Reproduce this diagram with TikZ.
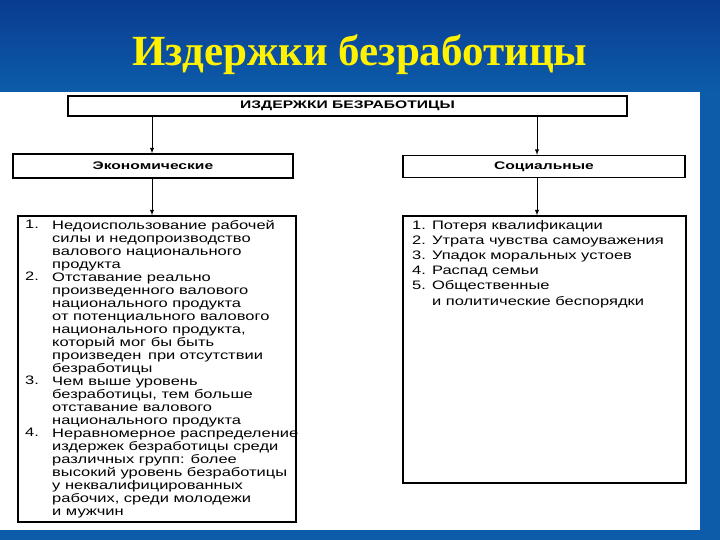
\documentclass[tikz,border=0pt]{standalone}
\usepackage{fontspec}
\setmainfont{Liberation Serif}
\newfontfamily\arl[FakeStretch=1.42]{Liberation Sans}
\newfontfamily\arlt[FakeStretch=1.34]{Liberation Sans}
\definecolor{frm}{RGB}{12,92,170}
\definecolor{tbar}{RGB}{10,60,145}
\begin{document}
\begin{tikzpicture}[x=1pt,y=-1pt,
 bx/.style={draw=black,line width=1.3pt,fill=white},
 hd/.style={font=\arl\bfseries\fontsize{11}{12}\selectfont},
 ar/.style={-latex,line width=0.9pt},
 txt/.style={font=\arlt\fontsize{12.3}{13}\selectfont,align=left,anchor=north west,inner sep=0pt}]
\useasboundingbox (0,0) rectangle (720,540);
\fill[frm] (0,0) rectangle (720,540);
\fill[top color=tbar,bottom color=frm] (0,0) rectangle (720,92);
\fill[white] (0,92) rectangle (700,530);
\node[font=\bfseries\fontsize{43}{48}\selectfont,text=yellow] (title) at (360,55) {Издержки безработицы};
\node[bx,hd,minimum width=559,minimum height=20,inner sep=0pt] (top) at (347.5,106) {ИЗДЕРЖКИ БЕЗРАБОТИЦЫ};
\node[bx,hd,minimum width=280,minimum height=24,inner sep=0pt] (eco) at (153,166) {Экономические};
\node[bx,hd,minimum width=282,minimum height=22,inner sep=0pt] (soc) at (544,166.5) {Социальные};
\node[bx,minimum width=278,minimum height=306,inner sep=0pt] (ecol) at (157,369) {};
\node[bx,minimum width=283,minimum height=267,inner sep=0pt] (socl) at (544.5,349.5) {};
\draw[ar] (top.south -| 152,0) -- (eco.north -| 152,0);
\draw[ar] (eco.south -| 152,0) -- (ecol.north -| 152,0);
\draw[ar] (top.south -| 537,0) -- (soc.north -| 537,0);
\draw[ar] (soc.south -| 537,0) -- (socl.north -| 537,0);
\node[txt] (n1) at (25,220) {1.\\ \\ \\ \\2.\\ \\ \\ \\ \\ \\ \\ \\3.\\ \\ \\ \\4.};
\node[txt] (t1) at (52,220) {Недоиспользование рабочей\\силы и недопроизводство\\валового национального\\продукта\\Отставание реально\\произведенного валового\\национального продукта\\от потенциального валового\\национального продукта,\\который мог бы быть\\произведен\, при отсутствии\\безработицы\\Чем выше уровень\\безработицы, тем больше\\отставание валового\\национального продукта\\Неравномерное распределение\\издержек безработицы среди\\различных групп: более\\высокий уровень безработицы\\у неквалифицированных\\рабочих, среди молодежи\\и мужчин};
\node[txt,font=\arlt\fontsize{12.3}{15.2}\selectfont] (t2) at (412,220) {1. Потеря квалификации\\2. Утрата чувства самоуважения\\3. Упадок моральных устоев\\4. Распад семьи\\5. Общественные\\\phantom{5. }и политические беспорядки};
\end{tikzpicture}
\end{document}
